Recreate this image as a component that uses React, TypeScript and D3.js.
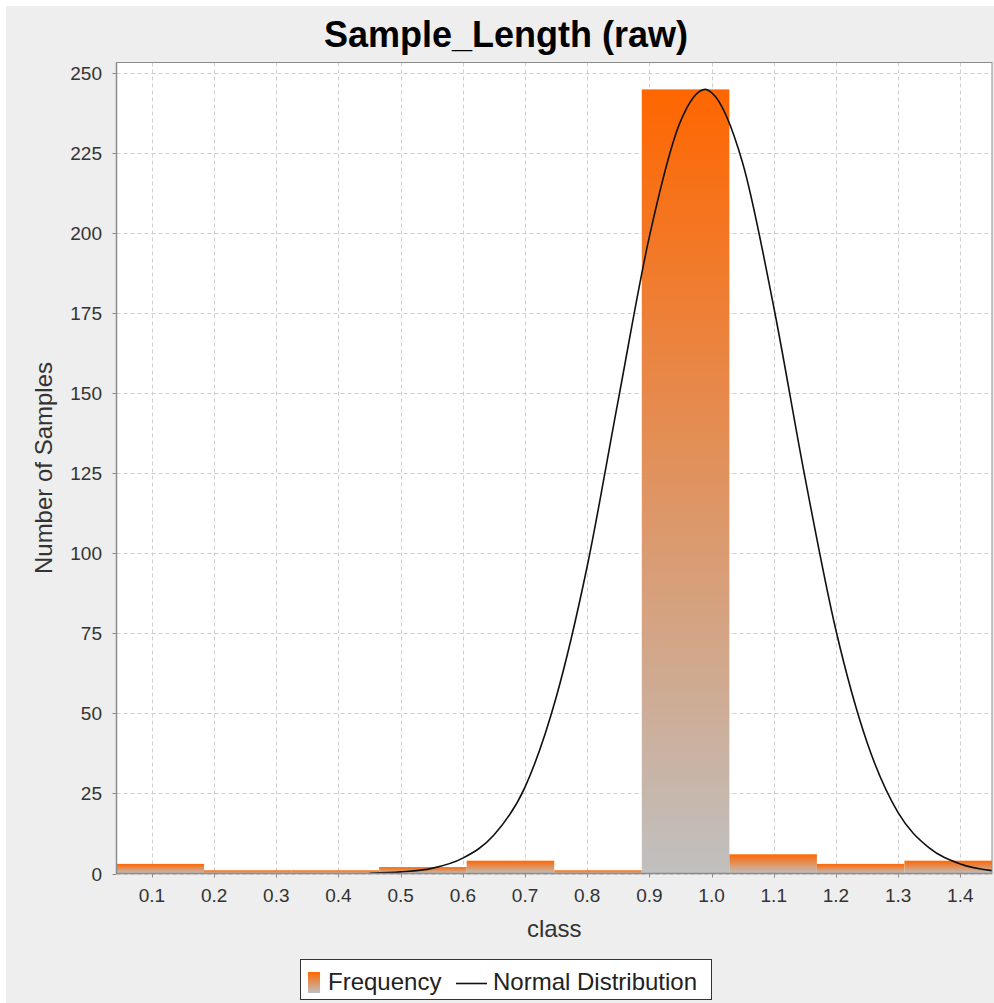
import React from "react";
import * as d3 from "d3";

// Histogram of Sample_Length with a fitted normal curve
const binEdges = [0.043, 0.1838, 0.3246, 0.4654, 0.6062, 0.747, 0.8878, 1.0286, 1.1694, 1.3102, 1.451];
const frequencies = [3, 1, 1, 2, 4, 1, 245, 6, 3, 4];

const curveX = [0.45, 0.5, 0.55, 0.6, 0.65, 0.7, 0.75, 0.8, 0.85, 0.9, 0.95, 0.99, 1.0, 1.05, 1.1, 1.15, 1.2, 1.25, 1.3, 1.35, 1.4, 1.451];
const curveY = [0.1, 0.5, 1.6, 4.8, 12, 27, 55, 96, 148, 199, 235, 245, 244, 222, 177, 124, 76, 41, 19, 8, 3, 0.9];

const xTicks = [0.1, 0.2, 0.3, 0.4, 0.5, 0.6, 0.7, 0.8, 0.9, 1.0, 1.1, 1.2, 1.3, 1.4];
const yTicks = [0, 25, 50, 75, 100, 125, 150, 175, 200, 225, 250];

const W = 994;
const H = 1003;
const plot = { left: 116.5, top: 62.5, right: 992, bottom: 873.5 };
const FONT = "'Liberation Sans', Arial, sans-serif";

export default function App() {
  const x = d3.scaleLinear().domain([binEdges[0], binEdges[binEdges.length - 1]]).range([plot.left, plot.right]);
  const y = d3.scaleLinear().domain([0, 253.4]).range([plot.bottom, plot.top]);

  const line = d3
    .line<number>()
    .x((_, i) => x(curveX[i]))
    .y((d) => y(d))
    .curve(d3.curveMonotoneX);

  return (
    <svg width={W} height={H} style={{ position: "absolute", left: 0, top: 0, display: "block" }}>
      <defs>
        <linearGradient id="barGrad" x1="0" y1="0" x2="0" y2="1">
          <stop offset="0" stopColor="#ff6600" />
          <stop offset="1" stopColor="#c0c0c0" />
        </linearGradient>
        <clipPath id="plotClip">
          <rect x={plot.left} y={plot.top} width={plot.right - plot.left} height={plot.bottom - plot.top} />
        </clipPath>
      </defs>

      <rect x={0} y={0} width={W} height={H} fill="#ffffff" />
      <rect x={6} y={6} width={W - 6} height={H - 6} fill="#eeeeee" />

      {/* title */}
      <text x={506} y={46.5} textAnchor="middle" fontFamily={FONT} fontWeight="bold" fontSize={36} fill="#000">
        Sample_Length (raw)
      </text>

      {/* plot background */}
      <rect x={plot.left} y={plot.top} width={plot.right - plot.left} height={plot.bottom - plot.top} fill="#ffffff" />

      {/* grid */}
      <g stroke="#cfcfcf" strokeWidth={1} strokeDasharray="4,3">
        {xTicks.map((t) => (
          <line key={"gx" + t} x1={Math.round(x(t)) + 0.5} x2={Math.round(x(t)) + 0.5} y1={plot.top} y2={plot.bottom} />
        ))}
        {yTicks.map((t) => (
          <line key={"gy" + t} x1={plot.left} x2={plot.right} y1={Math.round(y(t)) + 0.5} y2={Math.round(y(t)) + 0.5} />
        ))}
      </g>

      {/* bars */}
      <g clipPath="url(#plotClip)">
        {frequencies.map((f, i) => (
          <rect
            key={"b" + i}
            x={x(binEdges[i])}
            y={y(f)}
            width={x(binEdges[i + 1]) - x(binEdges[i])}
            height={y(0) - y(f)}
            fill="url(#barGrad)"
          />
        ))}
        <path d={line(curveY) || ""} fill="none" stroke="#111" strokeWidth={1.6} strokeLinejoin="round" />
      </g>

      {/* plot outline and axes */}
      <rect
        x={plot.left}
        y={plot.top}
        width={plot.right - plot.left}
        height={plot.bottom - plot.top}
        fill="none"
        stroke="#8c8c8c"
        strokeWidth={1}
      />
      <line x1={plot.left} x2={plot.left} y1={plot.top} y2={plot.bottom} stroke="#8c8c8c" strokeWidth={1.5} />
      <line x1={plot.left} x2={plot.right} y1={plot.bottom} y2={plot.bottom} stroke="#8c8c8c" strokeWidth={1.5} />

      {/* y axis */}
      <g fontFamily={FONT} fontSize={19} fill="#333">
        {yTicks.map((t) => (
          <g key={"yt" + t}>
            <line x1={plot.left - 4} x2={plot.left} y1={Math.round(y(t)) + 0.5} y2={Math.round(y(t)) + 0.5} stroke="#8c8c8c" />
            <text x={102} y={y(t) + 7} textAnchor="end">
              {t}
            </text>
          </g>
        ))}
      </g>

      {/* x axis */}
      <g fontFamily={FONT} fontSize={19} fill="#333">
        {xTicks.map((t) => (
          <g key={"xt" + t}>
            <line x1={Math.round(x(t)) + 0.5} x2={Math.round(x(t)) + 0.5} y1={plot.bottom} y2={plot.bottom + 4} stroke="#8c8c8c" />
            <text x={x(t)} y={901.5} textAnchor="middle">
              {t.toFixed(1)}
            </text>
          </g>
        ))}
      </g>

      {/* axis titles */}
      <text x={(plot.left + plot.right) / 2} y={937} textAnchor="middle" fontFamily={FONT} fontSize={24} fill="#333">
        class
      </text>
      <text
        transform={`translate(52, ${(plot.top + plot.bottom) / 2}) rotate(-90)`}
        textAnchor="middle"
        fontFamily={FONT}
        fontSize={24}
        fill="#333"
      >
        Number of Samples
      </text>

      {/* legend */}
      <g fontFamily={FONT} fontSize={24} fill="#222">
        <rect x={300.5} y={959.5} width={411} height={40} fill="#ffffff" stroke="#333" strokeWidth={1} />
        <rect x={308} y={972} width={12} height={21} fill="url(#barGrad)" />
        <text x={328} y={990}>
          Frequency
        </text>
        <line x1={456} x2={487} y1={983.5} y2={983.5} stroke="#111" strokeWidth={1.6} />
        <text x={493} y={990}>
          Normal Distribution
        </text>
      </g>
    </svg>
  );
}
